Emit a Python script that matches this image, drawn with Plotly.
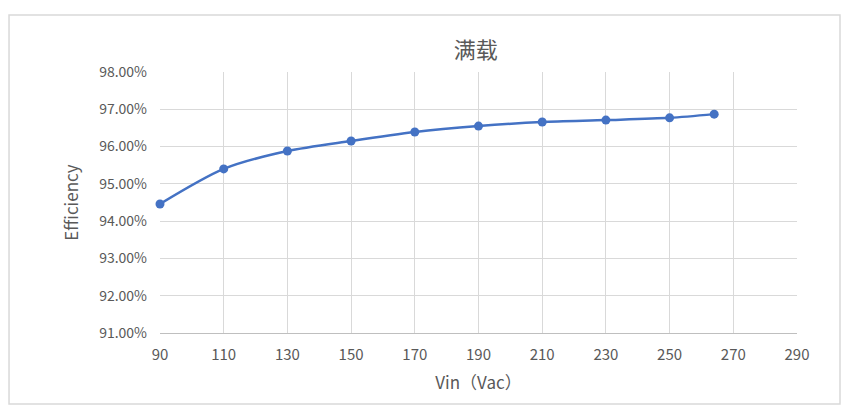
import plotly.graph_objects as go

vin = [90, 110, 130, 150, 170, 190, 210, 230, 250, 264]
efficiency = [0.9446, 0.9540, 0.9588, 0.9615, 0.9639, 0.9655, 0.9666, 0.9671, 0.9677, 0.9687]
x_ticks = [90, 110, 130, 150, 170, 190, 210, 230, 250, 270, 290]
y_ticks = [0.91, 0.92, 0.93, 0.94, 0.95, 0.96, 0.97, 0.98]

font_family = "Noto Sans CJK SC, Noto Sans, sans-serif"
gray = "#595959"

fig = go.Figure()
fig.add_trace(go.Scatter(
    x=vin, y=efficiency, mode="lines+markers",
    line=dict(color="#4472C4", width=2.5, shape="spline", smoothing=0.8),
    marker=dict(color="#4472C4", size=9),
    cliponaxis=False,
    showlegend=False,
))

fig.update_layout(
    width=851, height=415,
    margin=dict(l=160, r=54, t=72, b=82),
    paper_bgcolor="white", plot_bgcolor="white",
    font=dict(family=font_family, color=gray, size=14),
    title=dict(text="满载", x=0.559, xanchor="center", y=0.88, yanchor="middle",
               font=dict(size=22, color=gray, family=font_family)),
    xaxis=dict(range=[90, 290], tickvals=x_ticks, showgrid=True, gridcolor="#d9d9d9",
               gridwidth=1, zeroline=False, showline=True, linecolor="#bfbfbf",
               ticks="", tickfont=dict(size=15, color=gray), ticklabelstandoff=8,
               title=dict(text="Vin（Vac）", font=dict(size=17, color=gray), standoff=14)),
    yaxis=dict(range=[0.91, 0.98], tickvals=y_ticks, tickformat=".2%", showgrid=True,
               gridcolor="#d9d9d9", gridwidth=1, zeroline=False, showline=False,
               ticks="", tickfont=dict(size=14, color=gray), ticklabelstandoff=12,
               title=dict(text="Efficiency", font=dict(size=17, color=gray), standoff=16)),
    shapes=[dict(type="rect", xref="paper", yref="paper",
                 x0=-0.237, x1=1.0675, y0=-0.272, y1=1.218,
                 line=dict(color="#d9d9d9", width=1.5))],
)

fig.write_html("out.html", config={"displayModeBar": False},
               post_script="document.body.style.margin='0';")
